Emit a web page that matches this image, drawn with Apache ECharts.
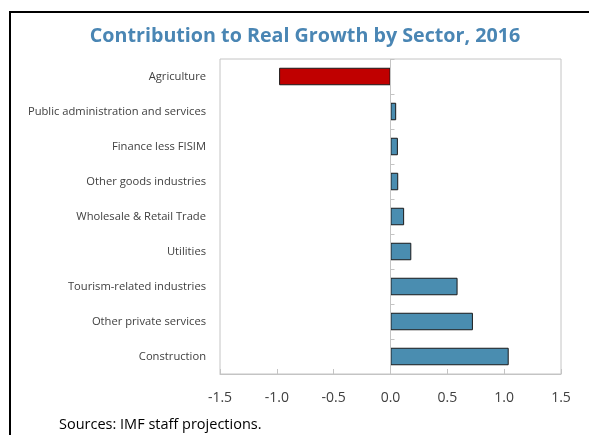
<!DOCTYPE html>
<html>
<head>
<meta charset="utf-8">
<script src="https://cdn.jsdelivr.net/npm/echarts@6/dist/echarts.min.js"></script>
<style>
html,body{margin:0;padding:0;background:#fff;}
#c{width:589px;height:435px;}
</style>
</head>
<body>
<div id="c"></div>
<script>
const categories = ["Agriculture","Public administration and services","Finance less FISIM","Other goods industries","Wholesale & Retail Trade","Utilities","Tourism-related industries","Other private services","Construction"];
const values = [-0.98, 0.05, 0.065, 0.068, 0.12, 0.183, 0.59, 0.725, 1.04];
const xTicks = [-1.5, -1.0, -0.5, 0.0, 0.5, 1.0, 1.5];
const titleText = "Contribution to Real Growth by Sector, 2016";
const sourceText = "Sources: IMF staff projections.";

const chart = echarts.init(document.getElementById('c'), null, {renderer:'canvas'});
const font = "'Open Sans', 'Noto Sans', sans-serif";
const option = {
  animation:false,
  title:{text:titleText,left:300,top:21,textAlign:'center',
    textStyle:{color:'#4a86b4',fontSize:19.7,fontWeight:'bold',fontFamily:font}},
  grid:{left:220,right:28,top:59,bottom:61,show:true,borderColor:'#c4c4c4',borderWidth:1,containLabel:false},
  xAxis:{type:'value',min:xTicks[0],max:xTicks[xTicks.length-1],interval:0.5,
    axisLine:{show:true,lineStyle:{color:'#c4c4c4'}},
    axisTick:{show:true,inside:true,length:5,lineStyle:{color:'#c4c4c4'}},
    splitLine:{show:false},
    axisLabel:{margin:17,color:'#404040',fontSize:14,fontFamily:font,formatter:v=>v.toFixed(1)}},
  yAxis:[
    {type:'category',data:categories,inverse:true,
     axisLine:{show:false},axisTick:{show:false},
     axisLabel:{margin:14,color:'#404040',fontSize:11.2,fontFamily:font}},
    {type:'category',data:categories,inverse:true,position:'left',offset:0,
     axisLine:{show:false,onZero:false},
     axisTick:{show:true,inside:true,length:4,lineStyle:{color:'#c4c4c4'}},
     axisLabel:{show:false}}
  ],
  series:[{type:'bar',yAxisIndex:0,barCategoryGap:'50%',
    data:values.map(v=>({value:v,itemStyle:{color:v<0?'#c00000':'#4a8db0'}})),
    itemStyle:{borderColor:'#1a1a1a',borderWidth:1},
    markLine:{silent:true,symbol:'none',label:{show:false},
      lineStyle:{color:'#c4c4c4',type:'solid',width:1},
      data:[{xAxis:0}]}}],
  graphic:[
    {type:'polyline',shape:{points:[[10,435],[10,12],[589,12]]},style:{stroke:'#000',lineWidth:2,fill:null}},
    {type:'text',left:59,top:417,style:{text:sourceText,fill:'#000',font:"14.5px "+font}}
  ]
};
chart.setOption(option);
const zeroX = chart.convertToPixel({xAxisIndex:0}, 0);
const leftX = chart.convertToPixel({xAxisIndex:0}, xTicks[0]);
chart.setOption({yAxis:[{},{offset:-(zeroX-leftX)}]});
</script>
</body>
</html>
